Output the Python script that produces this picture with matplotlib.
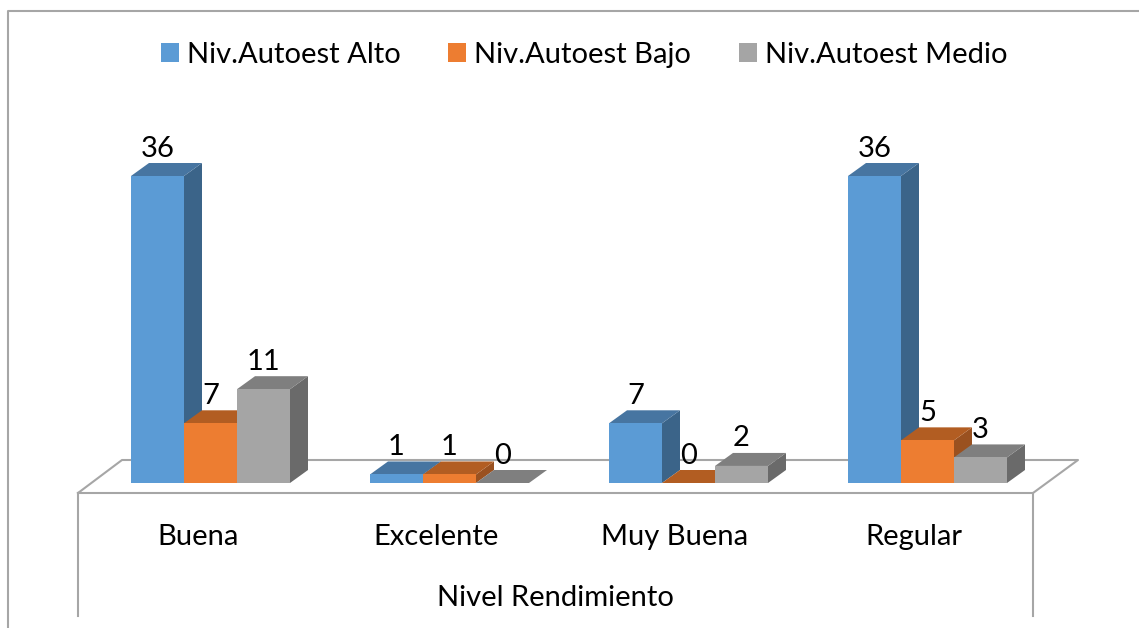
import numpy as np
import matplotlib
matplotlib.use('Agg')
import matplotlib.pyplot as plt
from matplotlib.patches import Polygon

categories = ['Buena', 'Excelente', 'Muy Buena', 'Regular']
series_names = ['Niv.Autoest Alto', 'Niv.Autoest Bajo', 'Niv.Autoest Medio']
alto = [36, 1, 7, 36]
bajo = [7, 1, 0, 5]
medio = [11, 0, 2, 3]
axis_title = 'Nivel Rendimiento'

front_colors = ['#5B9BD5', '#ED7D31', '#A5A5A5']
top_colors = ['#4775A1', '#B25D22', '#7F7F7F']
side_colors = ['#3B6489', '#9A5120', '#6A6A6A']
line_color = '#A6A6A6'

W, H = 1139, 628
# pixel geometry of the picture
group_step = 239.0
unit_px = 307 / 36
x0_px, y0_px = 210.5, 483.0
bar_w = 53 / group_step
dx = 18 / group_step
dy = 13 / unit_px

plt.rcParams['font.family'] = ['Lato', 'DejaVu Sans']
fig = plt.figure(figsize=(W / 100, H / 100), dpi=100)

# frame, floor and axis text sit in a pixel axes under the chart
deco = fig.add_axes([0, 0, 1, 1], zorder=0)
deco.set_xlim(0, W)
deco.set_ylim(H, 0)
deco.axis('off')
deco.plot([8, 8, W], [H, 11, 11], color=line_color, lw=1.5, solid_capstyle='butt')
deco.plot([78, 122, 1078, 1033, 78], [493, 460, 460, 493, 493], color=line_color, lw=1.5)
deco.plot([78, 78], [493, 616], color=line_color, lw=1.5)
deco.plot([1033, 1033], [493, 616], color=line_color, lw=1.5)

ax = fig.add_axes([0, 0, 1, 1], zorder=1)
ax.patch.set_alpha(0)
ax.set_xlim(-x0_px / group_step, (W - x0_px) / group_step)
ax.set_ylim((y0_px - H) / unit_px, y0_px / unit_px)
ax.axis('off')

x = np.arange(len(categories))
handles = []
z = 2
for s, vals in enumerate([alto, bajo, medio]):
    xs = x + (s - 1) * bar_w
    for xc, v in zip(xs, vals):
        l, r = xc - bar_w / 2, xc + bar_w / 2
        ax.add_patch(Polygon([(r, 0), (r + dx, dy), (r + dx, v + dy), (r, v)],
                             facecolor=side_colors[s], edgecolor='none', zorder=z))
        ax.add_patch(Polygon([(l, v), (l + dx, v + dy), (r + dx, v + dy), (r, v)],
                             facecolor=top_colors[s], edgecolor='none', zorder=z))
        ax.text(xc, v + dy + 1.7, str(v), ha='center', va='center', fontsize=21,
                color='black', zorder=50)
    bars = ax.bar(xs, vals, width=bar_w, color=front_colors[s], zorder=z + 1,
                  label=series_names[s])
    handles.append(bars)
    z += 2

leg = fig.legend(handles=handles, loc='center left', bbox_to_anchor=(161 / W, 1 - 55 / H),
                 ncol=3, frameon=False, fontsize=21, handlelength=0.62, handleheight=0.62,
                 handletextpad=0.28, columnspacing=1.62, borderpad=0, borderaxespad=0)

for i, name in enumerate(categories):
    deco.text(198 + i * 238.5, 537, name, ha='center', va='center', fontsize=21, color='black')
deco.text(555.5, 598, axis_title, ha='center', va='center', fontsize=21, color='black')

fig.savefig('out.png', dpi=100, facecolor='white')
